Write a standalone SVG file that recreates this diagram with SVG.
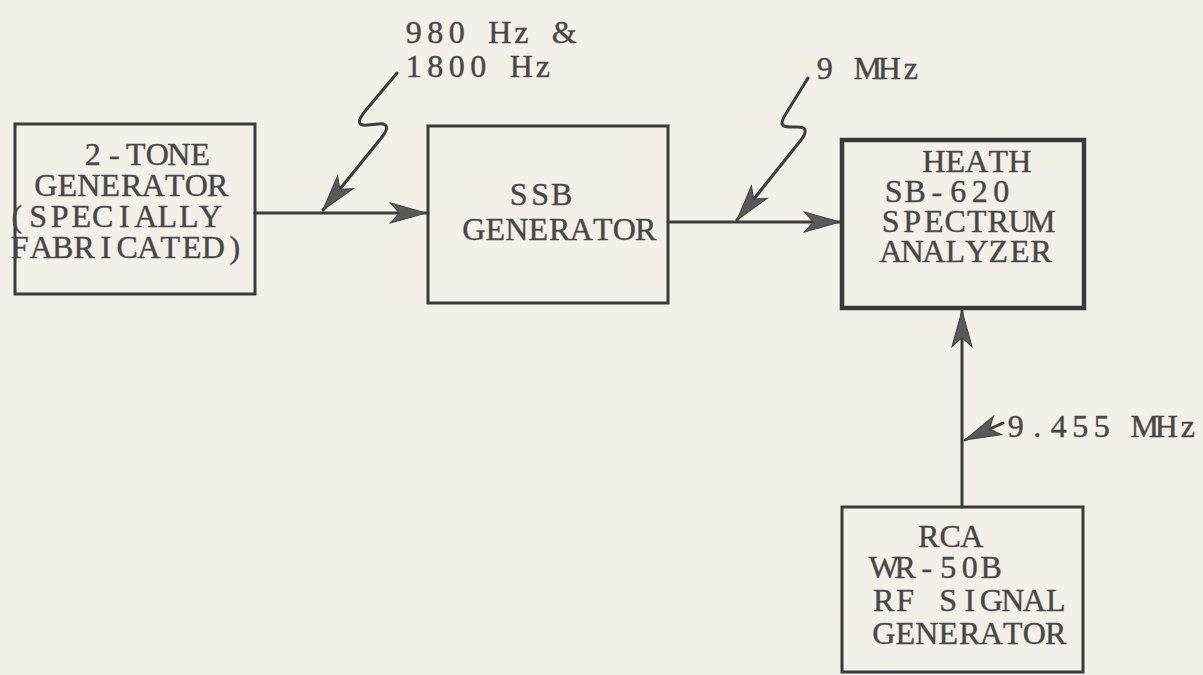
<svg xmlns="http://www.w3.org/2000/svg" width="1203" height="675" viewBox="0 0 1203 675">
<defs>
<style>
.box{fill:none;stroke:#3a3a3a;stroke-width:3}
.heavy{stroke-width:4.5}
.t{font-family:"Liberation Serif","DejaVu Serif",serif;font-size:32px;fill:#474747;stroke:#474747;stroke-width:0.4;text-anchor:middle}
.ln{fill:none;stroke:#3c3c3c;stroke-width:3;stroke-linecap:round;stroke-linejoin:round}
</style>
<marker id="ah" markerUnits="userSpaceOnUse" markerWidth="40" markerHeight="30" viewBox="-34 -12 36 24" refX="0" refY="0" orient="auto">
<path d="M0,0 L-32,-9 L-24,0 L-32,9 Z" fill="#5a5a5a" stroke="#444" stroke-width="1"/>
</marker>
</defs>
<rect width="1203" height="675" fill="#f2f0e7"/>

<g id="connectors">
<path class="ln" d="M255,213 L426,213" marker-end="url(#ah)"/>
<path class="ln" d="M668,222 L840,222" marker-end="url(#ah)"/>
<path class="ln" d="M962,507 L962,311" marker-end="url(#ah)"/>
<path class="ln" d="M397,73 L366,110 C356,122 358,126 368,125 L378,124 C388,123 389,128 382,137 L323,210" marker-end="url(#ah)"/>
<path class="ln" d="M808,78 L787,112 C779,124 781,127 790,127 L798,127 C807,127 807,132 801,140 L737,220" marker-end="url(#ah)"/>
<path class="ln" d="M1003,423 L965,440" marker-end="url(#ah)"/>
</g>

<g id="label-tones">
<text class="t" x="413.75 435.25 456.75 478.25 499.75 521.25 542.75 564.25" y="43">980 Hz &amp;</text>
<text class="t" x="413.75 435.25 456.75 478.25 499.75 521.25 542.75" y="77">1800 Hz</text>
</g>
<g id="label-9mhz">
<text class="t" x="824.75 846.25 867.75 889.25 910.75" y="79">9 MHz</text>
</g>
<g id="label-9455">
<text class="t" x="1015.75 1037.25 1058.75 1080.25 1101.75 1123.25 1144.75 1166.25 1187.75" y="437">9.455 MHz</text>
</g>

<g id="two-tone">
<rect class="box" x="15" y="124" width="240" height="170"/>
<text class="t" x="92.75 114.25 135.75 157.25 178.75 200.25" y="165">2-TONE</text>
<text class="t" x="45.75 67.25 88.75 110.25 131.75 153.25 174.75 196.25 217.75" y="196">GENERATOR</text>
<text class="t" x="16.75 38.25 59.75 81.25 102.75 124.25 145.75 167.25 188.75 210.25" y="227">(SPECIALLY</text>
<text class="t" x="19.75 41.25 62.75 84.25 105.75 127.25 148.75 170.25 191.75 213.25 234.75" y="258">FABRICATED)</text>
</g>

<g id="ssb">
<rect class="box" x="428" y="126" width="240" height="177"/>
<text class="t" x="518.75 540.25 561.75" y="205">SSB</text>
<text class="t" x="473.75 495.25 516.75 538.25 559.75 581.25 602.75 624.25 645.75" y="240">GENERATOR</text>
</g>

<g id="heath">
<rect class="box heavy" x="842" y="140" width="242" height="168"/>
<text class="t" x="933.75 955.25 976.75 998.25 1019.75" y="172">HEATH</text>
<text class="t" x="893.75 915.25 936.75 958.25 979.75 1001.25" y="202">SB-620</text>
<text class="t" x="890.75 912.25 933.75 955.25 976.75 998.25 1019.75 1041.25" y="232">SPECTRUM</text>
<text class="t" x="890.75 912.25 933.75 955.25 976.75 998.25 1019.75 1041.25" y="262">ANALYZER</text>
</g>

<g id="rca">
<rect class="box" x="842" y="507" width="241" height="165"/>
<text class="t" x="928.75 950.25 971.75" y="547">RCA</text>
<text class="t" x="883.75 905.25 926.75 948.25 969.75 991.25" y="578">WR-50B</text>
<text class="t" x="883.75 905.25 926.75 948.25 969.75 991.25 1012.75 1034.25 1055.75" y="611">RF SIGNAL</text>
<text class="t" x="883.75 905.25 926.75 948.25 969.75 991.25 1012.75 1034.25 1055.75" y="644">GENERATOR</text>
</g>
</svg>
